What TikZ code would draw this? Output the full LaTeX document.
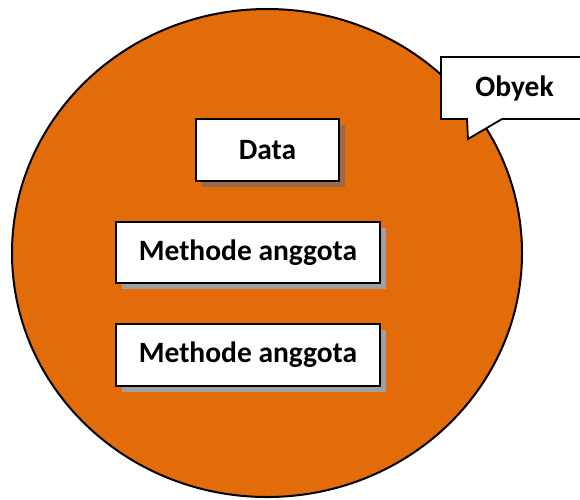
\documentclass[tikz,border=0pt]{standalone}
\usepackage{fontspec}
\setmainfont{Carlito}
\usetikzlibrary{shadows}
\definecolor{objorange}{RGB}{227,108,10}
\definecolor{shadowgray}{RGB}{160,160,160}
\definecolor{shadowbrown}{RGB}{155,106,76}
\tikzset{
  membox/.style={draw=black, fill=white, line width=1.8pt, inner sep=0pt,
    font=\fontsize{29.5}{35}\selectfont\bfseries, text=black},
  grayshadow/.style={drop shadow={shadow xshift=5.5pt, shadow yshift=-5.5pt, fill=shadowgray, opacity=1}},
  brownshadow/.style={drop shadow={shadow xshift=5.5pt, shadow yshift=-5.5pt, fill=shadowbrown, opacity=1}},
  outline/.style={draw=black, line width=2pt}
}
\begin{document}
\begin{tikzpicture}[x=1pt,y=-1pt]
\useasboundingbox (0,0) rectangle (580,499);
\clip (0,0) rectangle (580,499);
% object circle
\draw[outline, fill=objorange] (267,253) ellipse [x radius=255, y radius=244];
% members
\node[membox, brownshadow, minimum width=143pt, minimum height=62pt] (data) at (267.5,150) {Data};
\node[membox, grayshadow, minimum width=264pt, minimum height=61pt] (m1) at (248,252.5) {Methode anggota};
\node[membox, grayshadow, minimum width=264pt, minimum height=62pt] (m2) at (248,355) {Methode anggota};
% callout
\draw[outline, fill=white, line width=1.8pt] (441,57) -- (590,57) -- (590,119) -- (502,119) -- (468,139) -- (467,119) -- (441,119) -- cycle;
\node[font=\fontsize{29.5}{35}\selectfont\bfseries, inner sep=0pt] (obyek) at (514.5,88) {Obyek};
\end{tikzpicture}
\end{document}
